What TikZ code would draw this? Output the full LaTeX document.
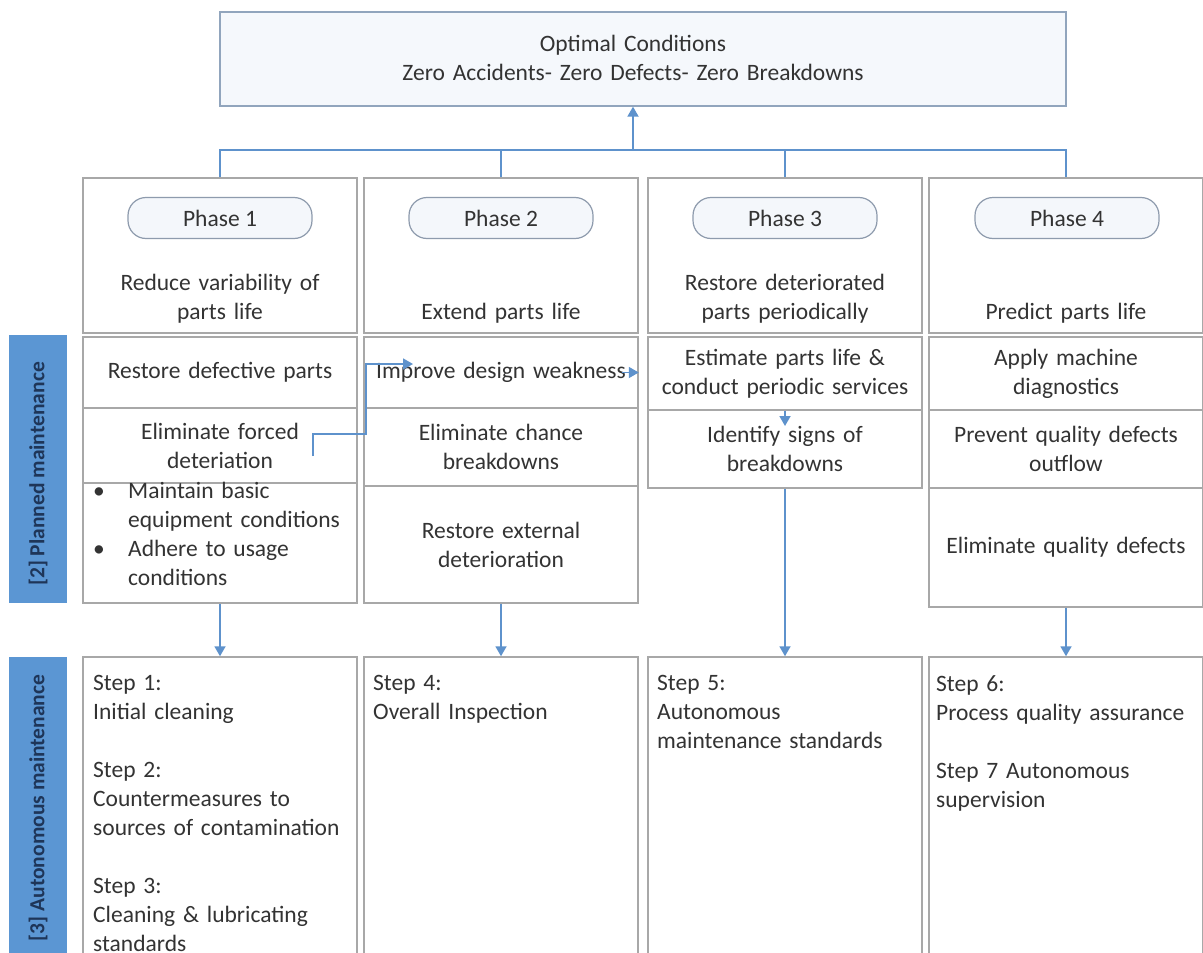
\documentclass[tikz,border=0pt]{standalone}
\usepackage{fontspec}
\setmainfont{Carlito}
\usetikzlibrary{arrows.meta,shadows}
\definecolor{txt}{HTML}{333333}
\definecolor{cellline}{HTML}{A8A8A8}
\definecolor{connc}{HTML}{5E92CC}
\definecolor{labfill}{HTML}{5B96D3}
\definecolor{labtxt}{HTML}{1E3558}
\definecolor{topline}{HTML}{91A5BD}
\definecolor{topfill}{HTML}{F5F8FC}
\definecolor{pillline}{HTML}{8E9BAD}
\definecolor{pillfill}{HTML}{F4F7FB}
\newcommand\bodyfont{\fontsize{23.5}{29}\selectfont}
\newcommand\labfont{\fontsize{21.5}{24}\selectfont\bfseries}
\begin{document}
\begin{tikzpicture}[x=1pt,y=-1pt,
  cell/.style={draw=cellline,line width=1.5pt,fill=white,minimum width=274pt,inner sep=0pt,
    align=center,text width=266pt,font=\bodyfont,text=txt,
    drop shadow={shadow xshift=1.2pt,shadow yshift=-1.2pt,opacity=0.25}},
  plain/.style={inner sep=0pt,font=\bodyfont,text=txt,align=center,text width=266pt},
  lefttext/.style={inner sep=0pt,font=\bodyfont,text=txt,align=left,text width=266pt,anchor=north west},
  pill/.style={draw=pillline,fill=pillfill,line width=1.2pt,rounded corners=18pt,
    minimum width=184pt,minimum height=41pt,inner sep=0pt,font=\bodyfont,text=txt},
  sidebox/.style={fill=labfill,minimum width=58pt,inner sep=0pt},
  sidetext/.style={font=\labfont,text=labtxt,rotate=90,inner sep=0pt},
  connline/.style={draw=connc,line width=1.8pt},
  connarrow/.style={draw=connc,line width=1.8pt,-{Triangle[width=11pt,length=10pt]}}
]
\clip (0,0) rectangle (1203,953);
\fill[white] (0,0) rectangle (1203,953);

% top box
\node[draw=topline,fill=topfill,line width=1.3pt,minimum width=846pt,minimum height=94pt,inner sep=0pt] (top) at (643,59) {};
\node[plain,text width=700pt] (toptext) at (633,58) {Optimal Conditions\\Zero Accidents- Zero Defects- Zero Breakdowns};

% side labels
\node[sidebox,minimum height=268pt] (lab2) at (38,469) {};
\node[sidetext] (lab2t) at (38,474) {[2] Planned maintenance};
\node[sidebox,minimum height=313pt] (lab3) at (38,813.5) {};
\node[sidetext] (lab3t) at (38,808) {[3] Autonomous maintenance};

% phase boxes
\node[cell,minimum height=155pt] (p1) at (220,255.5) {};
\node[cell,minimum height=155pt] (p2) at (501,255.5) {};
\node[cell,minimum height=155pt] (p3) at (785,255.5) {};
\node[cell,minimum height=155pt] (p4) at (1066,255.5) {};
\node[pill] (p1l) at (220,218) {Phase 1};
\node[pill] (p2l) at (501,218) {Phase 2};
\node[pill] (p3l) at (785,218) {Phase 3};
\node[pill] (p4l) at (1067,218) {Phase 4};
\node[plain,anchor=south] (p1t) at (220,323) {Reduce variability of\\parts life};
\node[plain,anchor=south] (p2t) at (501,323) {Extend parts life};
\node[plain,anchor=south] (p3t) at (785,323) {Restore deteriorated\\parts periodically};
\node[plain,anchor=south] (p4t) at (1066,323) {Predict parts life};

% planned maintenance rows
\node[cell,minimum height=71pt] (c1r2) at (220,372.5) {Restore defective parts};
\node[cell,minimum height=75pt] (c1r3) at (220,445.5) {Eliminate forced\\deteriation};
\node[cell,minimum height=120pt] (c1r4) at (220,543) {};
\node[lefttext] (c1r4t) at (93,482) {\makebox[35pt][l]{\textbullet}Maintain basic\\\hspace*{35pt}equipment conditions\\\makebox[35pt][l]{\textbullet}Adhere to usage\\\hspace*{35pt}conditions};

\node[cell,minimum height=71pt] (c2r2) at (501,372.5) {Improve design weakness};
\node[cell,minimum height=78pt] (c2r3) at (501,447) {Eliminate chance\\breakdowns};
\node[cell,minimum height=117pt] (c2r4) at (501,544.5) {Restore external\\deterioration};

\node[cell,minimum height=73pt] (c3r2) at (785,373.5) {Estimate parts life \&\\conduct periodic services};
\node[cell,minimum height=78pt] (c3r3) at (785,449) {Identify signs of\\breakdowns};

\node[cell,minimum height=73pt] (c4r2) at (1066,373.5) {Apply machine\\diagnostics};
\node[cell,minimum height=78pt] (c4r3) at (1066,449) {Prevent quality defects\\outflow};
\node[cell,minimum height=119pt] (c4r4) at (1066,547.5) {Eliminate quality defects};

% autonomous maintenance boxes
\node[cell,minimum height=313pt] (s1) at (220,813.5) {};
\node[cell,minimum height=313pt] (s2) at (501,813.5) {};
\node[cell,minimum height=313pt] (s3) at (785,813.5) {};
\node[cell,minimum height=313pt] (s4) at (1066,813.5) {};
\node[lefttext] (s1t) at (93,675) {Step 1:\\Initial cleaning\\[29pt]Step 2:\\Countermeasures to\\sources of contamination\\[29pt]Step 3:\\Cleaning \& lubricating\\standards};
\node[lefttext] (s2t) at (373,675) {Step 4:\\Overall Inspection};
\node[lefttext] (s3t) at (657,675) {Step 5:\\Autonomous\\maintenance standards};
\node[lefttext] (s4t) at (936,675) {Step 6:\\Process quality assurance\\[29pt]Step 7 Autonomous\\supervision};

% connectors
\coordinate (hub) at (633,150);
\draw[connline] (p1.north) -- (p1.north |- hub) -- (p4.north |- hub) -- (p4.north);
\draw[connline] (p2.north) -- (p2.north |- hub);
\draw[connline] (p3.north) -- (p3.north |- hub);
\draw[connarrow] (hub) -- (hub |- top.south);

\coordinate (f1) at (313,456);
\coordinate (fk) at (366,434);
\coordinate (f2) at (413,364);
\draw[connarrow] (f1) |- (fk) |- (f2);
\coordinate (g1) at (622,372.5);
\draw[connarrow] (g1) -- (c2r2.east);
\coordinate (h2) at (785,426);
\draw[connarrow] (c3r2.south) -- (h2);

\draw[connarrow] (c1r4.south) -- (s1.north);
\draw[connarrow] (c2r4.south) -- (s2.north);
\draw[connarrow] (c3r3.south) -- (s3.north);
\draw[connarrow] (c4r4.south) -- (s4.north);
\end{tikzpicture}
\end{document}
